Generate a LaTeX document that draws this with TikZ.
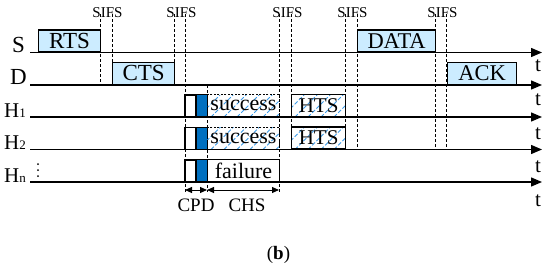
\documentclass[tikz,border=0pt]{standalone}
\usepackage{fontspec}
\setmainfont{Liberation Serif}
\usetikzlibrary{arrows.meta}
\definecolor{boxfill}{RGB}{204,236,255}
\definecolor{cpdblue}{RGB}{0,112,192}
\definecolor{hatchblue}{RGB}{60,155,232}
\newcommand{\fs}[1]{\fontsize{#1}{#1}\selectfont}
\tikzset{
  timeline/.style={line width=1.4pt,-{Triangle[length=11pt,width=9pt]}},
  pktbox/.style={draw,line width=1.2pt,fill=boxfill,inner sep=0pt,minimum height=22pt,anchor=south west,font=\fs{23}},
  vdash/.style={line width=0.9pt,dash pattern=on 3pt off 2pt},
  hatchline/.style={hatchblue,line width=0.9pt,dash pattern=on 4pt off 2pt},
  sifslabel/.style={font=\fs{15},inner sep=0pt},
  rowlabel/.style={font=\fs{23},inner sep=0pt,anchor=base},
  hlabel/.style={font=\fs{21},inner sep=0pt,anchor=base west},
  tlabel/.style={font=\fs{21},inner sep=0pt},
  dimarrow/.style={line width=1pt,{Triangle[length=7pt,width=6pt]}-{Triangle[length=7pt,width=6pt]}},
  smalltxt/.style={font=\fs{19},inner sep=0pt}
}
\begin{document}
\begin{tikzpicture}[x=1pt,y=-1pt]
\useasboundingbox (0,0) rectangle (550,271);

% row labels
\node[rowlabel] (lS) at (18.5,52) {S};
\node[rowlabel] (lD) at (18.5,84) {D};
\node[hlabel] (lH1) at (4,117) {H{\fs{13}1}};
\node[hlabel] (lH2) at (4,149.5) {H{\fs{13}2}};
\node[hlabel] (lHn) at (4,182) {H{\fs{13}n}};
\foreach \yy in {164,170,176} \fill (38,\yy) circle (1pt);

% vertical dashed lines
\foreach \x/\yb in {100/85,112/62,174/62,185/192,279/192,291/149.5,345/149.5,357/149.5,435.7/149.5,446.7/149.5}
  \draw[vdash] (\x,14) -- (\x,\yb);
\draw[vdash] (207,85) -- (207,192);

% SIFS labels
\node[sifslabel] (sf1) at (107.5,13) {SIFS};
\node[sifslabel] (sf2) at (181.5,13) {SIFS};
\node[sifslabel] (sf3) at (287.5,13) {SIFS};
\node[sifslabel] (sf4) at (352.5,13) {SIFS};
\node[sifslabel] (sf5) at (442.5,13) {SIFS};

% packet boxes
\node[pktbox,minimum width=62pt] (rts) at (38,52.5) {RTS};
\node[pktbox,minimum width=62pt] (cts) at (112,85) {CTS};
\node[pktbox,minimum width=78pt,font=\fs{22.5}] (data) at (357,52.5) {DATA};
\node[pktbox,minimum width=69pt,font=\fs{22.5}] (ack) at (447,85) {ACK};

% H rows
\foreach \yb in {117,149.5}{
  \draw[line width=1.1pt] (185,\yb-22) rectangle (207,\yb);
  \fill[cpdblue] (196,\yb-22) rectangle (207,\yb);
  \draw[line width=1.1pt] (196,\yb-22) -- (196,\yb);
  \begin{scope}
    \clip (207,\yb-22) rectangle (279,\yb);
    \foreach \i in {198,211,...,290} \draw[hatchline] (\i,\yb) -- ++(30,-30);
  \end{scope}
  \begin{scope}
    \clip (291,\yb-22) rectangle (345,\yb);
    \foreach \i in {282,295,...,350} \draw[hatchline] (\i,\yb) -- ++(30,-30);
  \end{scope}
}
\node[draw,line width=0.9pt,dash pattern=on 2pt off 1.5pt,minimum width=72pt,minimum height=22pt,inner sep=0pt,anchor=south west,font=\fs{22}] (suc1) at (207,117) {success};
\node[draw,line width=0.9pt,dash pattern=on 2pt off 1.5pt,minimum width=72pt,minimum height=22pt,inner sep=0pt,anchor=south west,font=\fs{22}] (suc2) at (207,149.5) {success};
\node[draw,line width=1.2pt,minimum width=54pt,minimum height=22pt,inner sep=0pt,anchor=south west,font=\fs{21}] (hts1) at (291,117) {HTS};
\node[draw,line width=1.2pt,minimum width=54pt,minimum height=22pt,inner sep=0pt,anchor=south west,font=\fs{21}] (hts2) at (291,149.5) {HTS};
\draw[line width=1.1pt] (185,160) rectangle (207,182);
\fill[cpdblue] (196,160) rectangle (207,182);
\draw[line width=1.1pt] (196,160) -- (196,182);
\node[draw,line width=1.1pt,minimum width=72pt,minimum height=22pt,inner sep=0pt,anchor=south west,font=\fs{22}] (fail) at (207,182) {failure};

% time lines
\coordinate (s0) at (30,52.5); \coordinate (s1) at (542,52.5);
\coordinate (d0) at (30,85); \coordinate (d1) at (542,85);
\coordinate (h10) at (30,117); \coordinate (h11) at (542,117);
\coordinate (h20) at (30,149.5); \coordinate (h21) at (542,149.5);
\coordinate (hn0) at (30,182); \coordinate (hn1) at (542,182);
\draw[timeline] (s0) -- (s1);
\draw[timeline] (d0) -- (d1);
\draw[timeline] (h10) -- (h11);
\draw[timeline] (h20) -- (h21);
\draw[timeline] (hn0) -- (hn1);

% t labels
\node[tlabel] (t1) at (538,66) {t};
\node[tlabel] (t2) at (538,100) {t};
\node[tlabel] (t3) at (538,134) {t};
\node[tlabel] (t4) at (538,167) {t};
\node[tlabel] (t5) at (538,201) {t};

% CPD / CHS
\coordinate (c0) at (185,190); \coordinate (c1) at (207,190); \coordinate (c2) at (279,190);
\draw[dimarrow] (c0) -- (c1);
\draw[dimarrow] (c1) -- (c2);
\node[smalltxt] (cpd) at (196,205) {CPD};
\node[smalltxt] (chs) at (247,205) {CHS};

\node[font=\fs{19},inner sep=0pt] (cap) at (278.5,255) {(\textbf{b})};
\end{tikzpicture}
\end{document}
